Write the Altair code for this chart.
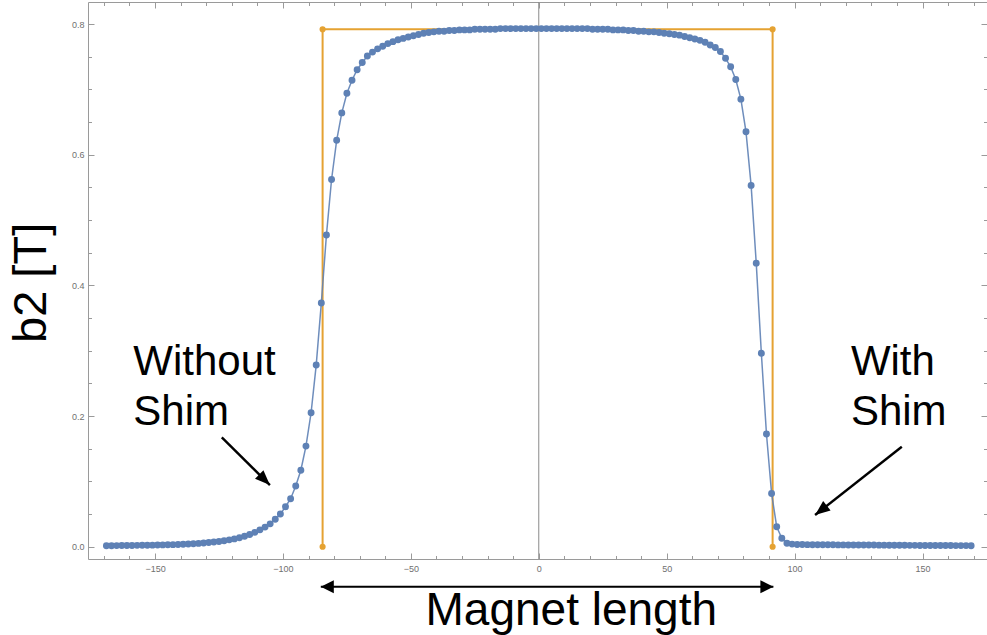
import altair as alt
import pandas as pd

# ---------------- data ----------------
pos_mm = list(range(-169, 170, 2))  # sample positions (every 2 mm)
b2_T = [
    # -169 .. -99
    0.0016, 0.0016, 0.0017, 0.0018, 0.0019, 0.0020, 0.0021, 0.0022, 0.0023, 0.0024,
    0.0026, 0.0028, 0.0030, 0.0032, 0.0035, 0.0038, 0.0042, 0.0046, 0.0051, 0.0057,
    0.0064, 0.0072, 0.0081, 0.0092, 0.0105, 0.0120, 0.0138, 0.0160, 0.0188, 0.0220,
    0.0258, 0.0300, 0.0350, 0.0420, 0.0500, 0.0612,
    # -97 .. -15
    0.0735, 0.093, 0.117, 0.154, 0.205, 0.278, 0.373, 0.477, 0.562, 0.622,
    0.664, 0.694, 0.714, 0.730, 0.741, 0.751, 0.757, 0.762, 0.766, 0.770,
    0.773, 0.776, 0.778, 0.780, 0.782, 0.784, 0.786, 0.787, 0.788, 0.789,
    0.789, 0.790, 0.790, 0.791, 0.791, 0.791, 0.792, 0.792, 0.792, 0.792,
    0.792, 0.793,
    # -13 .. 17
    0.793, 0.793, 0.793, 0.793, 0.793, 0.793, 0.793, 0.793,
    0.793, 0.793, 0.793, 0.793, 0.793, 0.793, 0.793, 0.793,
    # 19 .. 97
    0.793, 0.792, 0.792, 0.792, 0.792, 0.791, 0.791, 0.791, 0.790, 0.790,
    0.789, 0.789, 0.788, 0.788, 0.787, 0.786, 0.785, 0.784, 0.783, 0.781,
    0.779, 0.777, 0.775, 0.772, 0.768, 0.764, 0.758, 0.7475, 0.7346, 0.715,
    0.685, 0.635, 0.553, 0.434, 0.296, 0.1725, 0.0815, 0.0306, 0.0129, 0.0052,
    # 99 .. 169
    0.0040, 0.0035, 0.0033, 0.0032, 0.0031, 0.0030, 0.0030, 0.0029, 0.0029, 0.0028,
    0.0028, 0.0027, 0.0027, 0.0026, 0.0026, 0.0025, 0.0025, 0.0024, 0.0024, 0.0023,
    0.0023, 0.0022, 0.0022, 0.0021, 0.0021, 0.0020, 0.0020, 0.0019, 0.0019, 0.0018,
    0.0018, 0.0018, 0.0017, 0.0017, 0.0017, 0.0016,
]
assert len(pos_mm) == len(b2_T)

magnet_pos = [-84.5, -84.5, 91.4, 91.4]
magnet_b2 = [0.0, 0.792, 0.792, 0.0]

# axis ticks
x_major = [-150, -100, -50, 0, 50, 100, 150]
x_minor = [-170, -160, -150, -140, -130, -120, -110, -100, -90, -80, -70, -60, -50,
           -40, -30, -20, -10, 0, 10, 20, 30, 40, 50, 60, 70, 80, 90, 100, 110, 120,
           130, 140, 150, 160, 170]
y_major = [0.0, 0.2, 0.4, 0.6, 0.8]
y_minor = [0.0, 0.05, 0.1, 0.15, 0.2, 0.25, 0.3, 0.35, 0.4, 0.45, 0.5, 0.55, 0.6,
           0.65, 0.7, 0.75, 0.8]
center_pos = [0]

# annotations (in data units)
note_text = ["Without", "Shim", "With", "Shim"]
note_x = [-158.5, -158.5, 122.0, 122.0]
note_y = [0.2628, 0.1863, 0.2628, 0.1863]

arrow_x1 = [-123.9, 141.9]
arrow_y1 = [0.1674, 0.1530]
arrow_x2 = [-105.1, 108.0]
arrow_y2 = [0.0944, 0.0485]

span_x = [-85.2, 91.7]
span_y = [-0.0612, -0.0612]
span_label_x = [12.7]
span_label_y = [-0.1198]
span_label = ["Magnet length"]

# ---------------- chart ----------------
FONT = "Liberation Sans"
GRAY = "#9a9a9a"
BLUE = "#5E81B5"
ORANGE = "#E5A232"

XS = alt.Scale(domain=[-176.2, 175.2], nice=False, zero=False)
YS = alt.Scale(domain=[-0.0188, 0.8337], nice=False, zero=False)


def tick_axis(orient, values, size):
    return alt.Axis(orient=orient, values=values, ticks=True, tickSize=size,
                    tickColor=GRAY, tickWidth=1, offset=-size, labels=False,
                    domain=False, grid=False)


def frame_axis(orient):
    return alt.Axis(orient=orient, ticks=False, tickSize=0, labels=False,
                    domain=True, domainColor=GRAY, domainWidth=1, grid=False)


x_label_axis = alt.Axis(orient="bottom", values=x_major, format="d", ticks=False,
                        tickSize=0, labelPadding=5, labelFont=FONT, labelFontSize=9,
                        labelColor="#707070", domain=True, domainColor=GRAY,
                        domainWidth=1, grid=False)
y_label_axis = alt.Axis(orient="left", values=y_major, format=".1f", ticks=False,
                        tickSize=0, labelPadding=4, labelFont=FONT, labelFontSize=9,
                        labelColor="#707070", domain=True, domainColor=GRAY,
                        domainWidth=1, grid=False,
                        titleFont=FONT, titleFontSize=47, titleFontWeight="normal",
                        titleColor="black", titleAngle=270, titleX=-43, titleY=280.4,
                        titleAlign="center", titleBaseline="alphabetic")

blue_df = pd.DataFrame({"x": pos_mm, "y": b2_T})
mag_df = pd.DataFrame({"x": magnet_pos, "y": magnet_b2})

center = alt.Chart(pd.DataFrame({"x": center_pos})).mark_rule(
    color="#8a8a8a", strokeWidth=1).encode(
    x=alt.X("x:Q", scale=XS, axis=frame_axis("top"), title=None))

orange_line = alt.Chart(mag_df).mark_line(color=ORANGE, strokeWidth=2).encode(
    x=alt.X("x:Q", scale=XS, axis=tick_axis("bottom", x_minor, 3.5), title=None),
    y=alt.Y("y:Q", scale=YS, axis=tick_axis("left", y_minor, 3.5), title=None),
    order=alt.Order("idx:Q"),
).transform_window(idx="row_number()")

orange_pts = alt.Chart(mag_df).mark_circle(color=ORANGE, size=38, opacity=1).encode(
    x=alt.X("x:Q", scale=XS, axis=tick_axis("top", x_major, 6), title=None),
    y=alt.Y("y:Q", scale=YS, axis=tick_axis("right", y_major, 6), title=None),
)

blue_line = alt.Chart(blue_df).mark_line(color=BLUE, strokeWidth=1.5, opacity=0.9).encode(
    x=alt.X("x:Q", scale=XS, axis=x_label_axis, title=None),
    y=alt.Y("y:Q", scale=YS, axis=y_label_axis, title="b2 [T]"),
)

blue_pts = alt.Chart(blue_df).mark_circle(color=BLUE, size=48, opacity=1).encode(
    x=alt.X("x:Q", scale=XS, axis=tick_axis("bottom", x_major, 6), title=None),
    y=alt.Y("y:Q", scale=YS, axis=tick_axis("left", y_major, 6), title=None),
)

notes = alt.Chart(pd.DataFrame({"x": note_x, "y": note_y, "t": note_text})).mark_text(
    align="left", baseline="alphabetic", font=FONT, fontSize=42, color="black").encode(
    x=alt.X("x:Q", scale=XS, axis=tick_axis("top", x_minor, 3.5), title=None),
    y=alt.Y("y:Q", scale=YS, axis=tick_axis("right", y_minor, 3.5), title=None),
    text="t:N",
)

arr_df = pd.DataFrame({"x": arrow_x1, "y": arrow_y1, "x2": arrow_x2, "y2": arrow_y2})
arrows = alt.Chart(arr_df).mark_rule(color="black", strokeWidth=2.4).encode(
    x=alt.X("x:Q", scale=XS, axis=None), y=alt.Y("y:Q", scale=YS, axis=None),
    x2="x2:Q", y2="y2:Q")

HEAD = "M0,0L-0.8,2L0.8,2Z"
HEAD2 = "M0,0L-1,2L1,2Z"


def head(xv, yv, ang, path, size):
    return alt.Chart(pd.DataFrame({"x": [xv], "y": [yv]})).mark_point(
        shape=path, filled=True, size=size, angle=ang, color="black",
        opacity=1, strokeWidth=0).encode(
        x=alt.X("x:Q", scale=XS, axis=None), y=alt.Y("y:Q", scale=YS, axis=None))


head_l = head(arrow_x2[0], arrow_y2[0], 134.6, HEAD, 225)
head_r = head(arrow_x2[1], arrow_y2[1], 231.8, HEAD, 225)

span_df = pd.DataFrame({"x": [span_x[0]], "x2": [span_x[1]], "y": [span_y[0]]})
span = alt.Chart(span_df).mark_rule(color="black", strokeWidth=2).encode(
    x=alt.X("x:Q", scale=XS, axis=None), x2="x2:Q",
    y=alt.Y("y:Q", scale=YS, axis=None))
span_hl = head(span_x[0], span_y[0], 270, HEAD2, 169)
span_hr = head(span_x[1], span_y[1], 90, HEAD2, 169)

span_txt = alt.Chart(pd.DataFrame({"x": span_label_x, "y": span_label_y,
                                   "t": span_label})).mark_text(
    align="center", baseline="alphabetic", font=FONT, fontSize=46, color="black").encode(
    x=alt.X("x:Q", scale=XS, axis=None), y=alt.Y("y:Q", scale=YS, axis=None), text="t:N")

chart = alt.layer(
    center, orange_line, orange_pts, blue_line, blue_pts,
    notes, arrows, head_l, head_r, span, span_hl, span_hr, span_txt,
).resolve_axis(x="independent", y="independent").properties(
    width=899, height=557,
    autosize=alt.AutoSizeParams(type="none"),
    padding={"left": 88, "top": 2, "right": 0, "bottom": 76},
    background="white",
).configure_view(stroke=None)

chart.save("out.html", embed_options={"renderer": "svg", "actions": False})
